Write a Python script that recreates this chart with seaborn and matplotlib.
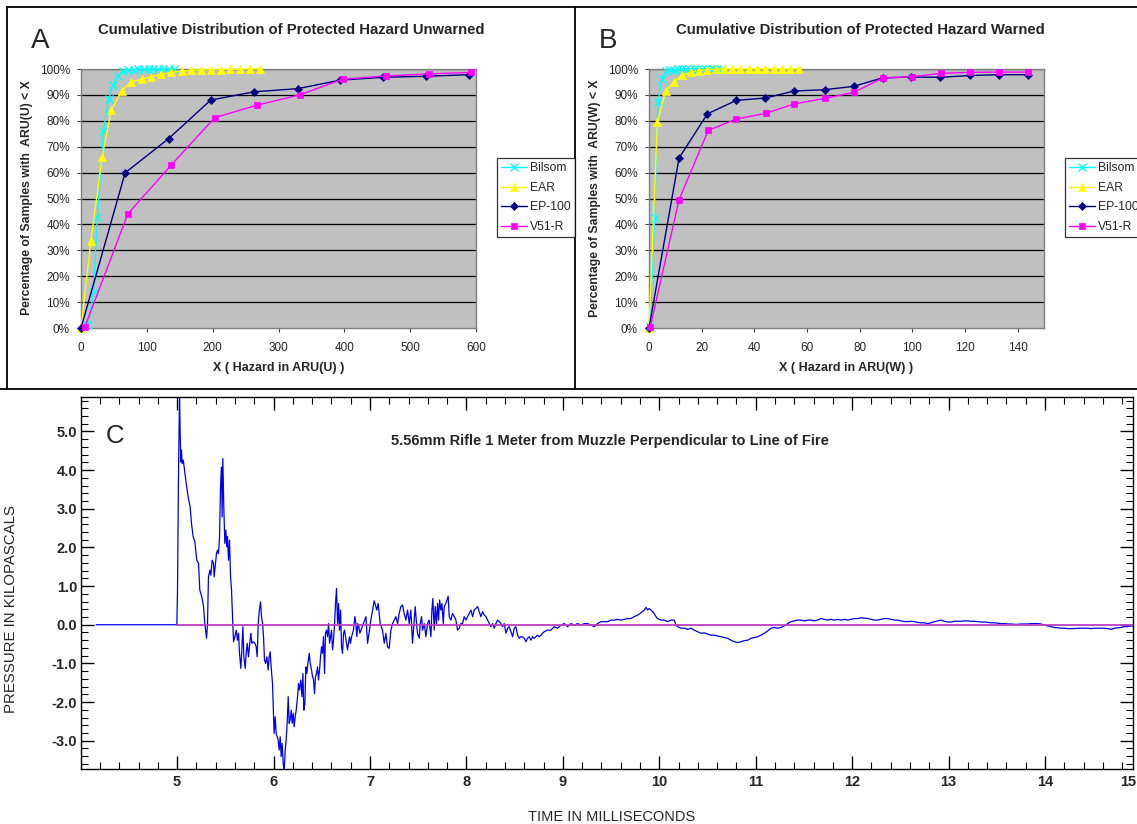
import matplotlib
matplotlib.use("Agg")
import matplotlib.pyplot as plt
import seaborn as sns
from matplotlib.lines import Line2D
from matplotlib.ticker import MultipleLocator, FixedLocator, FuncFormatter, FormatStrFormatter

sns.set_style("white")
plt.rcParams['font.family'] = ['Liberation Sans', 'DejaVu Sans']
plt.rcParams['axes.unicode_minus'] = False

# ---------------- data: cumulative distributions ----------------
series_names = ["Bilsom", "EAR", "EP-100", "V51-R"]

# Panel A (unwarned), x in ARU(U), y in percent
bilsom_u_x = [11, 19, 25, 34, 42, 49, 56, 64, 72, 80, 87, 95, 103, 110, 118, 125, 133, 141]
bilsom_u_y = [1, 14, 43, 76, 88.5, 94, 97.3, 99.2, 99.6, 99.8, 99.9, 100, 100, 100, 100, 100, 100, 100]
ear_u_x = [0, 15, 32, 46, 62, 76, 92, 106, 122, 137, 153, 167, 182, 197, 212, 227, 242, 257, 272]
ear_u_y = [0, 33.5, 66, 84.2, 91.6, 95, 96, 97, 97.9, 98.7, 99.2, 99.5, 99.7, 99.8, 99.8, 99.9, 99.9, 100, 100]
ep_u_x = [0, 67, 133, 197, 263, 329, 394, 459, 524, 590]
ep_u_y = [0, 59.9, 73.1, 88, 91.2, 92.4, 95.7, 96.8, 97.2, 97.8]
v51_u_x = [6, 71, 137, 203, 267, 332, 398, 463, 528, 593]
v51_u_y = [0.5, 44, 62.9, 81.2, 86, 90, 96.1, 97.3, 98.1, 98.7]

# Panel B (warned), x in ARU(W), y in percent
bilsom_w_x = [0.4, 2.1, 3.4, 4.8, 6.6, 8.1, 9.6, 11.1, 12.6, 14.0, 15.5, 17.0, 18.5, 20.0, 21.5, 23.0, 24.4, 25.9, 27.4]
bilsom_w_y = [0.3, 42.6, 87.1, 96.1, 99.2, 99.6, 99.8, 99.9, 100, 100, 100, 100, 100, 100, 100, 100, 100, 100, 100]
ear_w_x = [0, 3.2, 6.3, 9.5, 12.6, 15.8, 19.0, 22.1, 25.3, 28.4, 31.6, 34.7, 37.9, 41.0, 44.2, 47.3, 50.5, 53.6, 56.8]
ear_w_y = [0, 79.7, 91.4, 95, 97.5, 98.8, 99.4, 99.8, 99.9, 100, 100, 100, 100, 100, 100, 100, 100, 100, 100]
ep_w_x = [0, 11.4, 22.2, 33.2, 44.2, 55.1, 66.7, 77.7, 88.8, 99.6, 110.6, 122, 133, 144]
ep_w_y = [0, 65.6, 82.7, 87.9, 88.8, 91.5, 92, 93.3, 96.6, 96.9, 96.8, 97.5, 97.8, 97.8]
v51_w_x = [0.5, 11.4, 22.5, 33.2, 44.4, 55.1, 67, 77.8, 88.8, 99.8, 110.7, 122, 133, 144]
v51_w_y = [0.5, 49.5, 76.3, 80.7, 82.9, 86.5, 88.7, 91, 96.5, 97, 98.3, 98.7, 98.8, 98.8]

pct_ticks = [0, 10, 20, 30, 40, 50, 60, 70, 80, 90, 100]
a_xticks = [0, 100, 200, 300, 400, 500, 600]
b_xticks = [0, 20, 40, 60, 80, 100, 120, 140]

# ---------------- data: pressure trace (time ms, kPa) ----------------
trace_onset = [
    (4.16, 0.0), (4.997, 0.0), (5.004, 0.90), (5.014, 3.83), (5.025, 5.95), (5.031, 5.03),
    (5.038, 4.21), (5.045, 4.52), (5.052, 4.17), (5.063, 4.26), (5.073, 4.08), (5.090, 3.74),
    (5.114, 3.31), (5.135, 3.05), (5.149, 2.62), (5.166, 2.28), (5.184, 2.15), (5.204, 1.67),
    (5.222, 1.59), (5.235, 0.90), (5.256, 0.72), (5.274, 0.47), (5.287, 0.03), (5.305, -0.35),
    (5.315, 0.03), (5.325, 1.24), (5.339, 1.41), (5.350, 1.28), (5.363, 1.67), (5.377, 1.59),
    (5.384, 1.24), (5.394, 1.50), (5.408, 1.84), (5.419, 1.93), (5.429, 1.84), (5.440, 2.28),
    (5.450, 3.57), (5.460, 4.08), (5.467, 2.79), (5.474, 4.30), (5.484, 3.05), (5.495, 2.10),
    (5.505, 2.45), (5.516, 2.02), (5.522, 2.28), (5.533, 1.67), (5.543, 2.19), (5.554, 1.24),
    (5.564, 0.90), (5.578, 0.03), (5.585, -0.44), (5.599, -0.31), (5.613, -0.14), (5.626, -0.40),
    (5.637, -0.22), (5.647, -0.74), (5.661, -1.13), (5.671, -0.65), (5.682, -0.05), (5.692, -0.83),
    (5.706, -1.13), (5.716, -0.74), (5.727, -0.48), (5.740, -0.83), (5.751, -0.53), (5.765, -0.22),
    (5.775, -0.48), (5.789, -0.44), (5.806, -0.48), (5.820, -0.57), (5.830, -0.83), (5.841, 0.03),
    (5.851, 0.34), (5.865, 0.59), (5.875, 0.21), (5.886, 0.03), (5.896, -0.31), (5.906, -0.91),
    (5.917, -1.00), (5.931, -0.83), (5.944, -1.17), (5.955, -0.83), (5.965, -0.70), (5.975, -1.09),
    (5.989, -1.52), (6.006, -2.81), (6.017, -2.38), (6.027, -2.81), (6.038, -2.90), (6.048, -2.98),
    (6.058, -3.24), (6.069, -2.90), (6.079, -3.41), (6.089, -3.07), (6.100, -3.58), (6.110, -3.80),
    (6.121, -3.24), (6.131, -2.98), (6.141, -2.55), (6.152, -1.86), (6.162, -2.55), (6.172, -2.46),
    (6.183, -2.21), (6.193, -2.55), (6.204, -2.29), (6.214, -2.64), (6.224, -2.38), (6.235, -2.21),
    (6.249, -1.86), (6.259, -1.52), (6.269, -1.69), (6.283, -1.43), (6.294, -1.86), (6.304, -1.26),
    (6.314, -2.21), (6.325, -2.03), (6.335, -1.09), (6.345, -1.26), (6.356, -1.00), (6.370, -0.74),
    (6.380, -1.00), (6.394, -1.17), (6.404, -1.34), (6.415, -1.43), (6.425, -1.78), (6.435, -1.34),
    (6.446, -1.26), (6.456, -1.09), (6.466, -1.43), (6.477, -1.17), (6.487, -0.83), (6.498, -0.57),
    (6.508, -0.74), (6.518, -0.31), (6.529, -1.26), (6.539, -0.22), (6.549, -0.14), (6.560, -0.31),
    (6.570, 0.03), (6.581, -0.48), (6.591, -0.31), (6.601, -0.14), (6.612, -0.65), (6.622, -0.40),
    (6.632, -0.01), (6.643, 0.55), (6.653, 0.94), (6.664, 0.03), (6.674, 0.55), (6.684, -0.14),
    (6.695, 0.38), (6.705, -0.57), (6.715, -0.74), (6.726, -0.22), (6.736, -0.14), (6.747, -0.31),
    (6.757, -0.48), (6.767, -0.65), (6.778, -0.48), (6.788, -0.31), (6.798, -0.48), (6.809, -0.31),
    (6.819, -0.22), (6.829, -0.14), (6.843, 0.21), (6.854, 0.03), (6.864, -0.31), (6.874, 0.03),
    (6.885, -0.05), (6.895, -0.22),
]
trace_ringing = [
    (6.958, 0.21), (6.975, -0.48), (7.009, 0.12), (7.044, 0.62), (7.071, 0.38), (7.085, 0.55),
    (7.106, 0.03), (7.130, -0.14), (7.148, -0.48), (7.165, -0.22), (7.182, -0.57), (7.199, -0.61),
    (7.217, -0.14), (7.234, 0.03), (7.251, 0.12), (7.269, 0.21), (7.286, 0.03), (7.303, 0.29),
    (7.320, 0.47), (7.338, 0.51), (7.355, 0.29), (7.372, 0.12), (7.390, 0.38), (7.407, 0.03),
    (7.424, 0.38), (7.441, -0.48), (7.459, 0.12), (7.469, 0.47), (7.483, 0.03), (7.493, -0.22),
    (7.511, -0.35), (7.521, 0.03), (7.535, 0.21), (7.545, -0.14), (7.563, 0.03), (7.580, -0.31),
    (7.597, 0.03), (7.614, 0.12), (7.632, -0.31), (7.642, 0.38), (7.652, 0.68), (7.666, -0.14),
    (7.677, 0.47), (7.690, 0.03), (7.701, 0.55), (7.711, 0.12), (7.722, 0.64), (7.735, 0.38),
    (7.746, 0.55), (7.760, 0.03), (7.770, 0.47), (7.787, 0.55), (7.798, 0.64), (7.811, 0.74),
    (7.822, 0.21), (7.839, 0.12), (7.856, 0.29), (7.874, 0.21), (7.891, 0.12), (7.908, -0.14),
    (7.926, -0.09), (7.943, 0.03), (7.960, 0.03), (7.977, 0.21), (7.995, 0.12), (8.012, 0.21),
    (8.029, 0.29), (8.047, 0.38), (8.064, 0.21), (8.081, 0.38), (8.098, 0.42), (8.116, 0.47),
    (8.133, 0.34), (8.150, 0.21), (8.168, 0.34), (8.185, 0.25), (8.202, 0.21), (8.220, 0.12),
    (8.237, 0.03), (8.254, -0.05), (8.271, 0.03), (8.289, -0.09), (8.306, 0.03), (8.323, 0.12),
    (8.341, 0.08), (8.358, 0.03), (8.375, -0.05), (8.392, 0.03), (8.410, -0.22), (8.427, -0.09),
    (8.444, -0.05), (8.462, -0.18), (8.479, -0.31), (8.496, -0.09), (8.513, -0.05), (8.531, -0.27),
    (8.548, -0.35), (8.565, -0.31), (8.583, -0.31), (8.600, -0.35), (8.617, -0.44), (8.634, -0.35),
    (8.652, -0.31), (8.669, -0.40), (8.686, -0.31), (8.704, -0.35), (8.721, -0.31), (8.738, -0.27),
    (8.755, -0.31), (8.773, -0.27), (8.790, -0.22), (8.807, -0.18), (8.842, -0.14), (8.876, -0.14),
    (8.911, -0.05), (8.946, -0.09), (8.980, -0.01),
]
trace_tail = [
    (9.015, 0.03), (9.049, -0.05), (9.084, 0.03), (9.119, -0.01), (9.153, 0.03), (9.188, -0.01),
    (9.222, 0.03), (9.257, 0.03), (9.291, -0.01), (9.326, -0.05), (9.361, 0.03), (9.395, 0.08),
    (9.430, 0.08), (9.464, 0.08), (9.499, 0.12), (9.534, 0.12), (9.568, 0.14), (9.603, 0.12),
    (9.637, 0.14), (9.672, 0.16), (9.706, 0.16), (9.741, 0.21), (9.776, 0.25), (9.810, 0.31),
    (9.845, 0.38), (9.862, 0.45), (9.879, 0.38), (9.897, 0.42), (9.914, 0.38), (9.931, 0.34),
    (9.948, 0.29), (9.966, 0.21), (9.983, 0.16), (10.018, 0.12), (10.052, 0.12), (10.087, 0.08),
    (10.121, 0.12), (10.156, 0.12), (10.173, -0.01), (10.190, -0.05), (10.225, -0.09), (10.260, -0.09),
    (10.294, -0.12), (10.329, -0.09), (10.363, -0.14), (10.398, -0.18), (10.432, -0.22), (10.467, -0.21),
    (10.502, -0.24), (10.536, -0.27), (10.571, -0.27), (10.605, -0.29), (10.640, -0.31), (10.675, -0.33),
    (10.709, -0.35), (10.744, -0.40), (10.778, -0.44), (10.813, -0.46), (10.847, -0.44), (10.882, -0.41),
    (10.917, -0.40), (10.951, -0.35), (10.986, -0.33), (11.020, -0.31), (11.055, -0.27), (11.090, -0.22),
    (11.124, -0.16), (11.159, -0.09), (11.193, -0.07), (11.228, -0.09), (11.262, -0.07), (11.297, -0.03),
    (11.332, 0.03), (11.366, 0.08), (11.401, 0.10), (11.435, 0.12), (11.470, 0.12), (11.505, 0.10),
    (11.539, 0.12), (11.574, 0.12), (11.608, 0.10), (11.643, 0.12), (11.677, 0.16), (11.712, 0.14),
    (11.747, 0.12), (11.781, 0.14), (11.816, 0.12), (11.850, 0.14), (11.885, 0.12), (11.919, 0.14),
    (11.954, 0.12), (11.989, 0.14), (12.023, 0.16), (12.058, 0.16), (12.092, 0.18), (12.127, 0.17),
    (12.162, 0.16), (12.196, 0.14), (12.231, 0.12), (12.265, 0.12), (12.300, 0.14), (12.334, 0.16),
    (12.369, 0.16), (12.404, 0.14), (12.438, 0.12), (12.473, 0.12), (12.507, 0.10), (12.542, 0.08),
    (12.576, 0.08), (12.611, 0.09), (12.646, 0.08), (12.680, 0.06), (12.715, 0.05), (12.749, 0.05),
    (12.784, 0.03), (12.818, 0.05), (12.853, 0.08), (12.888, 0.10), (12.922, 0.12), (12.957, 0.09),
    (12.991, 0.07), (13.026, 0.07), (13.061, 0.09), (13.095, 0.09), (13.130, 0.09), (13.164, 0.10),
    (13.199, 0.10), (13.233, 0.09), (13.268, 0.09), (13.303, 0.08), (13.337, 0.07), (13.372, 0.07),
    (13.406, 0.06), (13.441, 0.05), (13.475, 0.05), (13.510, 0.04), (13.545, 0.03), (13.579, 0.03),
    (13.614, 0.02), (13.648, 0.02), (13.683, 0.01), (13.718, 0.01), (13.752, 0.02), (13.787, 0.02),
    (13.821, 0.02), (13.856, 0.03), (13.890, 0.03), (13.925, 0.03), (13.960, 0.02), (13.994, -0.01),
    (14.029, -0.03), (14.063, -0.05), (14.098, -0.07), (14.132, -0.08), (14.167, -0.09), (14.202, -0.09),
    (14.236, -0.10), (14.271, -0.10), (14.305, -0.10), (14.340, -0.09), (14.374, -0.09), (14.409, -0.09),
    (14.444, -0.09), (14.478, -0.10), (14.513, -0.09), (14.547, -0.09), (14.582, -0.09), (14.617, -0.09),
    (14.651, -0.10), (14.686, -0.12), (14.720, -0.09), (14.755, -0.08), (14.790, -0.07), (14.824, -0.05),
    (14.859, -0.05), (14.893, -0.03), (14.928, -0.03),
]
trace = trace_onset + trace_ringing + trace_tail
time_ms = [t for t, _ in trace]
pressure_kpa = [p for _, p in trace]

zero_ref_t = [5.0, 15.0]
zero_ref_p = [0.0, 0.0]
c_xticks = [5, 6, 7, 8, 9, 10, 11, 12, 13, 14]

# ---------------- figure ----------------
W, H = 1137, 824
fig = plt.figure(figsize=(W / 100, H / 100), dpi=100)
fig.patch.set_facecolor('white')


def fx(px):
    return px / W


def fy(py):
    return 1 - py / H


styles = {
    "Bilsom": dict(color='#00ffff', marker='x', markersize=5.2, markeredgewidth=1.0),
    "EAR": dict(color='#ffff00', marker='^', markersize=6, markeredgewidth=0.5),
    "EP-100": dict(color='#000080', marker='D', markersize=4, markeredgewidth=0.5),
    "V51-R": dict(color='#ff00ff', marker='s', markersize=4.8, markeredgewidth=0.5),
}


def cum_panel(ax, data, xmax, xticks, xlabel, ylabel, legend_x, plot_left, plot_right, ylabel_x):
    ax.set_facecolor('#c0c0c0')
    for name, (xs, ys) in zip(series_names, data):
        st = styles[name]
        sns.lineplot(x=xs, y=ys, ax=ax, color=st['color'], marker=st['marker'],
                     markersize=st['markersize'], markeredgewidth=st['markeredgewidth'],
                     markeredgecolor=st['color'], markerfacecolor=st['color'],
                     linewidth=1.0, estimator=None, sort=False, legend=False,
                     clip_on=False, zorder=3)
    ax.set_xlim(0, xmax)
    ax.set_ylim(0, 100)
    ax.xaxis.set_major_locator(FixedLocator(xticks))
    ax.yaxis.set_major_locator(FixedLocator(pct_ticks))
    ax.yaxis.set_major_formatter(FuncFormatter(lambda v, _: f"{v:.0f}%"))
    ax.grid(False)
    for v in pct_ticks[1:]:
        ax.axhline(v, color='black', lw=0.9, zorder=1)
    for s in ax.spines.values():
        s.set_color('#808080')
        s.set_linewidth(1.0)
        s.set_visible(True)
    ax.tick_params(axis='both', direction='out', length=3, width=0.8, color='#404040',
                   labelsize=8.5, pad=5, bottom=True, left=True)
    ax.tick_params(axis='x', pad=7)
    ax.set_xlabel("")
    ax.set_ylabel("")
    fig.text(fx((plot_left + plot_right) / 2), fy(368), xlabel, ha='center', va='center',
             fontsize=9, fontweight='bold')
    fig.text(fx(ylabel_x), fy(198), ylabel, ha='center', va='center', rotation=90,
             fontsize=8.8, fontweight='bold')
    handles = [Line2D([], [], color=styles[n]['color'], marker=styles[n]['marker'],
                      markersize=styles[n]['markersize'], markeredgewidth=styles[n]['markeredgewidth'],
                      markeredgecolor=styles[n]['color'], lw=1.0) for n in series_names]
    leg = fig.legend(handles, series_names, loc='upper left',
                     bbox_to_anchor=(fx(legend_x), fy(158)), bbox_transform=fig.transFigure,
                     frameon=True, fancybox=False, shadow=False, fontsize=8.75,
                     handlelength=2.1, handletextpad=0.3, labelspacing=0.62,
                     borderpad=0.35, borderaxespad=0.0, numpoints=1)
    leg.get_frame().set_edgecolor('black')
    leg.get_frame().set_linewidth(0.9)
    leg.get_frame().set_facecolor('white')


axA = fig.add_axes([fx(81), fy(328), (476 - 81) / W, (328 - 69) / H])
cum_panel(axA,
          [(bilsom_u_x, bilsom_u_y), (ear_u_x, ear_u_y), (ep_u_x, ep_u_y), (v51_u_x, v51_u_y)],
          600, a_xticks, "X ( Hazard in ARU(U) )", "Percentage of Samples with  ARU(U) < X",
          497, 81, 476, 27)

axB = fig.add_axes([fx(649), fy(328), (1044 - 649) / W, (328 - 69) / H])
cum_panel(axB,
          [(bilsom_w_x, bilsom_w_y), (ear_w_x, ear_w_y), (ep_w_x, ep_w_y), (v51_w_x, v51_w_y)],
          150, b_xticks, "X ( Hazard in ARU(W) )", "Percentage of Samples with  ARU(W) < X",
          1065, 649, 1044, 595)

fig.text(fx(291.5), fy(33.5), "Cumulative Distribution of Protected Hazard Unwarned",
         ha='center', va='baseline', fontsize=10.7, fontweight='bold')
fig.text(fx(860.5), fy(33.5), "Cumulative Distribution of Protected Hazard Warned",
         ha='center', va='baseline', fontsize=10.7, fontweight='bold')
fig.text(fx(31), fy(48.3), "A", ha='left', va='baseline', fontsize=20)
fig.text(fx(599), fy(48.3), "B", ha='left', va='baseline', fontsize=20)

# ---------------- panel C ----------------
axC = fig.add_axes([fx(80.7), fy(769.3), (1132.7 - 80.7) / W, (769.3 - 396.7) / H])
axC.set_facecolor('white')
sns.lineplot(x=time_ms, y=pressure_kpa, ax=axC, color='#0000ee', linewidth=0.9,
             estimator=None, sort=False, legend=False, zorder=2)
sns.lineplot(x=zero_ref_t, y=zero_ref_p, ax=axC, color='#c03cc0', linewidth=1.3,
             estimator=None, sort=False, legend=False, zorder=3)
axC.set_xlim(4.0, 14.91)
axC.set_ylim(-3.74, 5.9)
axC.xaxis.set_major_locator(FixedLocator(c_xticks))
axC.xaxis.set_minor_locator(MultipleLocator(0.2))
axC.yaxis.set_major_locator(MultipleLocator(1.0))
axC.yaxis.set_minor_locator(MultipleLocator(0.2))
axC.yaxis.set_major_formatter(FormatStrFormatter('%.1f'))
axC.grid(False)
for s in axC.spines.values():
    s.set_color('black')
    s.set_linewidth(1.0)
    s.set_visible(True)
axC.tick_params(which='both', direction='in', top=True, right=True, bottom=True, left=True,
                color='black')
axC.tick_params(which='major', length=9.5, width=1.0, labelsize=10.5)
axC.tick_params(axis='x', which='major', pad=4)
axC.tick_params(axis='y', which='major', pad=2.5)
axC.tick_params(which='minor', length=5, width=0.8)
axC.set_xlabel("")
axC.set_ylabel("")
for lab in axC.get_xticklabels() + axC.get_yticklabels():
    lab.set_fontweight('bold')
fig.text(fx(1136), fy(782), "15", ha='right', va='center', fontsize=10.5, fontweight='bold')

fig.text(fx(609.5), fy(445), "5.56mm Rifle 1 Meter from Muzzle Perpendicular to Line of Fire",
         ha='center', va='baseline', fontsize=10.5, fontweight='bold')
fig.text(fx(106), fy(443.3), "C", ha='left', va='baseline', fontsize=18.5)
fig.text(fx(611.5), fy(821), "TIME IN MILLISECONDS", ha='center', va='baseline', fontsize=10.5)
fig.text(fx(11), fy(609), "PRESSURE IN KILOPASCALS", ha='center', va='center', rotation=90,
         fontsize=10.8)

# ---------------- panel frames ----------------
frame_kw = dict(transform=fig.transFigure, color='black', linewidth=1.3)
fig.add_artist(Line2D([fx(6.7), fx(1137)], [fy(6.7), fy(6.7)], **frame_kw))
fig.add_artist(Line2D([fx(6.7), fx(6.7)], [fy(6.7), fy(389.5)], **frame_kw))
fig.add_artist(Line2D([fx(574.7), fx(574.7)], [fy(6.7), fy(389.5)], **frame_kw))
fig.add_artist(Line2D([fx(0), fx(1137)], [fy(389.5), fy(389.5)], **frame_kw))

fig.savefig("out.png", dpi=100, facecolor='white')
